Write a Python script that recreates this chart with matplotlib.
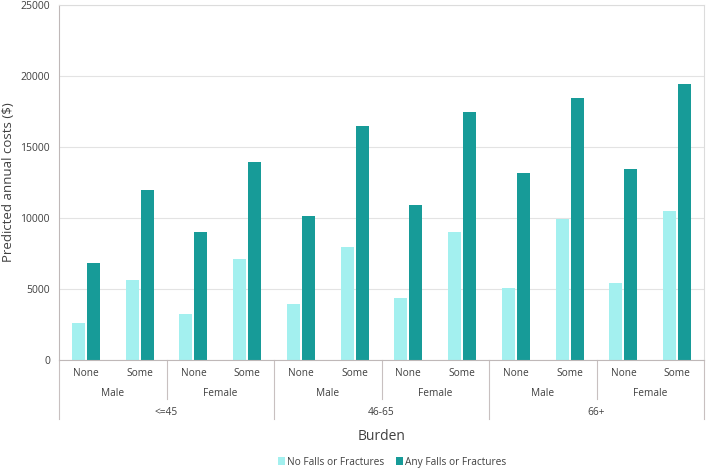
import matplotlib.pyplot as plt
import numpy as np
from matplotlib.lines import Line2D

plt.rcParams['font.family'] = ['Open Sans', 'DejaVu Sans']

# 数据
ages = ['<=45', '46-65', '66+']
sexes = ['Male', 'Female']
burden = ['None', 'Some']
no_falls = [2600, 5650, 3250, 7100, 3950, 7950, 4400, 9000, 5100, 9950, 5450, 10500]
any_falls = [6800, 12000, 9000, 13950, 10150, 16450, 10900, 17450, 13150, 18450, 13450, 19450]

light = '#a3f0ef'
dark = '#179b98'
txt = '#404040'
W, H = 706, 469

fig = plt.figure(figsize=(W / 100, H / 100), dpi=100)
ax = fig.add_axes([59 / W, 1 - 360 / H, 645 / W, 355 / H])

x = np.arange(len(no_falls))
ax.bar(x - 0.14, no_falls, 0.245, color=light, label='No Falls or Fractures', zorder=2)
ax.bar(x + 0.14, any_falls, 0.245, color=dark, label='Any Falls or Fractures', zorder=2)

ax.set_xlim(-0.5, len(x) - 0.5)
ax.set_ylim(0, 25000)
ax.set_yticks(np.arange(0, 25001, 5000))
ax.tick_params(axis='y', length=0, labelsize=7.5, labelcolor=txt, pad=6.5)
ax.set_xticks([])
ax.grid(axis='y', color='#e3e3e3', lw=0.8, zorder=0)
for s in ['top', 'right']:
    ax.spines[s].set_color('#dcdcdc')
for s in ['left', 'bottom']:
    ax.spines[s].set_color('#bfb8b8')
ax.set_ylabel('Predicted annual costs ($)', fontsize=9.5, color=txt, va='center')
ax.yaxis.set_label_coords(-50 / 645, 0.5)


def fy(py):
    # 像素 -> 轴坐标
    return (360 - py) / 355


tr = ax.get_xaxis_transform()
# 三层x轴标签
for i in range(len(x)):
    ax.text(i, fy(373.5), burden[i % 2], ha='center', va='center',
            fontsize=7.3, color=txt, transform=tr)
for j in range(6):
    ax.text(2 * j + 0.5, fy(393), sexes[j % 2], ha='center', va='center',
            fontsize=7.3, color=txt, transform=tr)
for k in range(3):
    ax.text(4 * k + 1.5, fy(412), ages[k], ha='center', va='center',
            fontsize=7.3, color=txt, transform=tr)

# 分隔线
for b in range(13):
    xb = b - 0.5
    if b % 4 == 0:
        y1 = fy(419)
    elif b % 2 == 0:
        y1 = fy(399)
    else:
        continue
    ax.add_line(Line2D([xb, xb], [0, y1], color='#c8c0c0', lw=0.8,
                       transform=tr, clip_on=False))

fig.text((59 + 704) / 2 / W, 1 - 436 / H, 'Burden', ha='center', va='center',
         fontsize=10, color=txt)
fig.legend(loc='center', bbox_to_anchor=(392 / W, 1 - 462 / H), ncol=2,
           frameon=False, fontsize=7.3, handlelength=0.7, handleheight=0.7,
           handletextpad=0.2, columnspacing=1.2, labelcolor=txt)

fig.savefig('out.png', dpi=100)
